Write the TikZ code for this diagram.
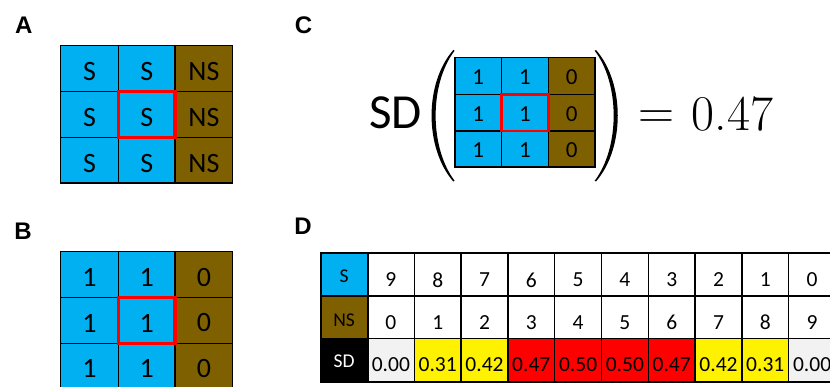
\documentclass[tikz,border=0pt]{standalone}
\usepackage{fontspec}
\newfontfamily\calfont{Carlito}
\newfontfamily\arialfont{Liberation Sans}
\definecolor{sblue}{HTML}{00B0F0}
\definecolor{nsbrown}{HTML}{7F6000}
\definecolor{sdgrey}{HTML}{F2F2F2}
\begin{document}
\begin{tikzpicture}[x=1pt,y=-1pt,
  panel/.style={font=\arialfont\bfseries\fontsize{24}{28}\selectfont, anchor=base west, inner sep=0},
  bigtxt/.style={font=\calfont\fontsize{28}{33}\selectfont, inner sep=0},
  midtxt/.style={font=\calfont\fontsize{23}{27}\selectfont, inner sep=0},
  tabtxt/.style={font=\calfont\fontsize{21.5}{25}\selectfont, inner sep=0},
  hdrtxt/.style={font=\calfont\fontsize{19.5}{23}\selectfont, inner sep=0},
  gridline/.style={draw=black, line width=1.1pt},
  tabline/.style={draw=black, line width=1.3pt},
  tabouter/.style={draw=black, line width=2pt},
  redbox/.style={draw=red, line width=3.3pt},
]
\clip (0,0) rectangle (830,387);
\useasboundingbox (0,0) rectangle (830,387);

% ---------- panel labels
\node[panel] (lA) at (15,33.3) {A};
\node[panel] (lB) at (14.2,240) {B};
\node[panel] (lC) at (294.7,33.3) {C};
\node[panel] (lD) at (294.2,235) {D};

% ---------- panel A
\fill[sblue] (60.7,45.7) rectangle (175,183);
\fill[nsbrown] (175,45.7) rectangle (232.7,183);
\foreach \x in {118.3,175} \draw[gridline] (\x,45.7) -- (\x,183);
\foreach \y in {91.7,137.3} \draw[gridline] (60.7,\y) -- (232.7,\y);
\draw[gridline] (60.7,45.7) rectangle (232.7,183);
\foreach \r/\y in {0/71.7,1/117.5,2/163.2} {
  \node[bigtxt] (a\r0) at (89.5,\y) {S};
  \node[bigtxt] (a\r1) at (146.7,\y) {S};
  \node[bigtxt] (a\r2) at (203.9,\y) {NS};
}
\draw[redbox] (118.3,91.7) rectangle (175,137.3);

% ---------- panel B
\fill[sblue] (60.7,251.7) rectangle (175,389);
\fill[nsbrown] (175,251.7) rectangle (232.7,389);
\foreach \x in {118.3,175} \draw[gridline] (\x,251.7) -- (\x,389);
\foreach \y in {297.7,343.3} \draw[gridline] (60.7,\y) -- (232.7,\y);
\draw[gridline] (60.7,251.7) rectangle (232.7,389);
\foreach \r/\y in {0/277.2,1/323,2/368.7} {
  \node[bigtxt] (b\r0) at (89.5,\y) {1};
  \node[bigtxt] (b\r1) at (146.7,\y) {1};
  \node[bigtxt] (b\r2) at (203.9,\y) {0};
}
\draw[redbox, line width=3.5pt] (118.3,297.7) rectangle (175,343.3);

% ---------- panel C
\node[font=\calfont\fontsize{49}{58}\selectfont, anchor=base west, inner sep=0] (sd) at (369,128.3) {SD};
\fill (453.3,50) .. controls (424.3,83) and (424.3,148) .. (453.3,181.5)
  -- (454.6,180.8) .. controls (429.3,147) and (429.3,84) .. (454.6,50.7) -- cycle;
\fill[sblue] (455,57.7) rectangle (548.3,167);
\fill[nsbrown] (548.3,57.7) rectangle (595,167);
\foreach \x in {501.7,548.3} \draw[gridline] (\x,57.7) -- (\x,167);
\foreach \y in {94.3,131} \draw[gridline] (455,\y) -- (595,\y);
\draw[gridline] (455,57.7) rectangle (595,167);
\foreach \r/\y in {0/77.2,1/113.9,2/150.2} {
  \node[midtxt] (c\r0) at (478.3,\y) {1};
  \node[midtxt] (c\r1) at (525,\y) {1};
  \node[midtxt] (c\r2) at (571.7,\y) {0};
}
\draw[redbox, line width=2.6pt] (501.7,94.3) rectangle (548.3,131);
\fill (596,50) .. controls (625,83) and (625,148) .. (596,181.5)
  -- (594.7,180.8) .. controls (620,147) and (620,84) .. (594.7,50.7) -- cycle;
\node[font=\fontsize{50}{58}\selectfont, anchor=base, inner sep=0] (eq) at (656,128.3) {=};
\node[font=\fontsize{50}{58}\selectfont, anchor=base west, inner sep=0] (val) at (691.5,130.5) {0.47};

% ---------- panel D
\fill[sblue] (320.7,253.3) rectangle (367.5,296);
\fill[nsbrown] (320.7,296) rectangle (367.5,338.3);
\fill[black] (320.7,338.3) rectangle (367.5,381.7);
\foreach \i/\s/\n/\v/\col in {1/9/0/0.00/sdgrey, 2/8/1/0.31/yellow, 3/7/2/0.42/yellow,
    4/6/3/0.47/red, 5/5/4/0.50/red, 6/4/5/0.50/red, 7/3/6/0.47/red,
    8/2/7/0.42/yellow, 9/1/8/0.31/yellow, 10/0/9/0.00/sdgrey} {
  \fill[\col] ({320.7+46.8*\i},338.3) rectangle ({320.7+46.8*(\i+1)},381.7);
  \node[tabtxt] (ds\i) at ({344.1+46.8*\i},280) {\s};
  \node[tabtxt] (dn\i) at ({344.1+46.8*\i},322.3) {\n};
  \node[tabtxt] (dv\i) at ({344.1+46.8*\i},364.3) {\v};
}
\foreach \y in {296,338.3} \draw[tabline] (320.7,\y) -- (840,\y);
\foreach \j in {2,...,10} \draw[tabline] ({320.7+46.8*\j},253.3) -- ({320.7+46.8*\j},381.7);
\draw[tabouter] (367.5,253.3) -- (367.5,381.7);
\draw[tabouter] (320.7,253.3) rectangle (835.5,381.7);
\node[hdrtxt] (hS) at (344.1,276.7) {S};
\node[hdrtxt] (hNS) at (344.1,320) {NS};
\node[hdrtxt, text=white] (hSD) at (344.1,361.7) {SD};
\end{tikzpicture}
\end{document}
